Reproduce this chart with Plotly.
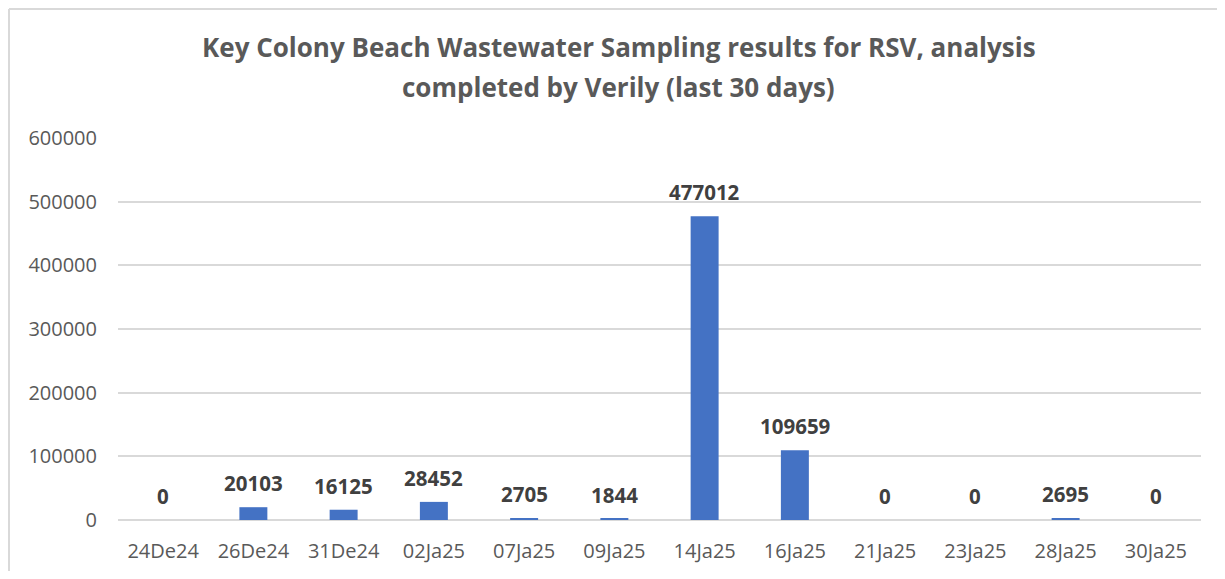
import plotly.graph_objects as go

categories = ["24De24", "26De24", "31De24", "02Ja25", "07Ja25", "09Ja25",
              "14Ja25", "16Ja25", "21Ja25", "23Ja25", "28Ja25", "30Ja25"]
values = [0, 20103, 16125, 28452, 2705, 1844, 477012, 109659, 0, 0, 2695, 0]
y_ticks = [0, 100000, 200000, 300000, 400000, 500000, 600000]
title_line1 = "Key Colony Beach Wastewater Sampling results for RSV, analysis"
title_line2 = "completed by Verily (last 30 days)"

FONT = "Open Sans"
W, H = 1209, 563  # page body has an 8px margin on every side
L, R, T, B = 110, 16, 130, 51
PW, PH = W - L - R, H - T - B

fig = go.Figure()
fig.add_trace(go.Bar(
    x=categories, y=values,
    marker=dict(color="#4472C4", line=dict(width=0)),
    width=0.31,
    hoverinfo="x+y",
))

for c, v in zip(categories, values):
    fig.add_annotation(
        x=c, y=v, xref="x", yref="y",
        text=f"<b>{v}</b>", showarrow=False,
        yanchor="middle", yshift=24,
        font=dict(family=FONT, size=20.5, color="#404040"),
    )

title_x = (610.5 - L) / PW
fig.add_annotation(
    x=title_x, y=1 + (T - 39) / PH, xref="paper", yref="paper",
    text=f"<b>{title_line1}</b>", showarrow=False,
    xanchor="center", yanchor="middle",
    font=dict(family=FONT, size=26, color="#595959"),
)
fig.add_annotation(
    x=title_x, y=1 + (T - 79) / PH, xref="paper", yref="paper",
    text=f"<b>{title_line2}</b>", showarrow=False,
    xanchor="center", yanchor="middle",
    font=dict(family=FONT, size=26, color="#595959"),
)

x_left = -(L - 1) / PW
y_top = 1 + (T - 1) / PH
border = dict(color="#D9D9D9", width=2)

fig.update_layout(
    width=W, height=H,
    margin=dict(l=L, r=R, t=T, b=B, autoexpand=False),
    paper_bgcolor="white", plot_bgcolor="white",
    showlegend=False,
    xaxis=dict(
        type="category", automargin=False,
        showgrid=False, zeroline=False, showline=False,
        ticks="", tickfont=dict(family=FONT, size=20, color="#595959"),
        ticklabelstandoff=17,
    ),
    yaxis=dict(
        range=[0, 600000], automargin=False,
        tickvals=y_ticks, ticktext=[str(t) for t in y_ticks],
        showgrid=True, gridcolor="#D9D9D9", gridwidth=1.5,
        zeroline=True, zerolinecolor="#D9D9D9", zerolinewidth=1.5,
        showline=False, ticks="",
        tickfont=dict(family=FONT, size=20, color="#595959"),
        ticklabelstandoff=20,
    ),
    shapes=[
        dict(type="line", xref="paper", yref="paper",
             x0=x_left, x1=x_left, y0=-(B + 5) / PH, y1=y_top,
             line=border, layer="below"),
        dict(type="line", xref="paper", yref="paper",
             x0=x_left, x1=1 + (R + 5) / PW, y0=y_top, y1=y_top,
             line=border, layer="below"),
    ],
)

fig.write_html("out.html")
